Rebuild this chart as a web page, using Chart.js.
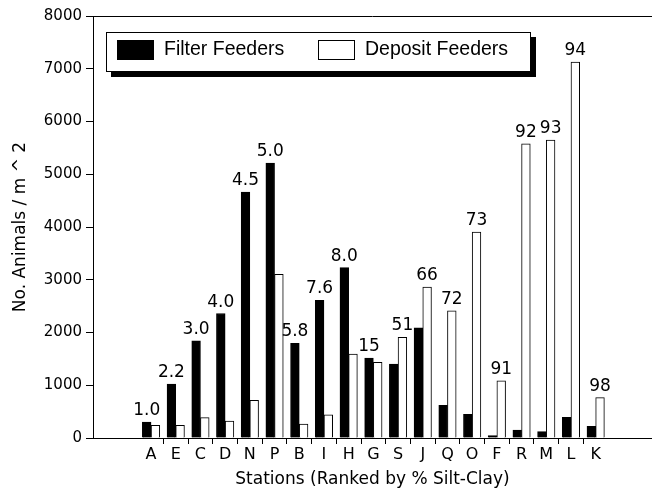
<!DOCTYPE html>
<html><head><meta charset="utf-8">
<script src="https://cdn.jsdelivr.net/npm/chart.js@4.4.0/dist/chart.umd.min.js"></script>
<style>html,body{margin:0;padding:0;background:#fff}#wrap{width:652px;height:493px}</style>
</head><body><div id="wrap"><canvas id="c" width="652" height="493"></canvas></div>
<script>
const stations = ['A','E','C','D','N','P','B','I','H','G','S','J','Q','O','F','R','M','L','K'];
const siltClay = ['1.0','2.2','3.0','4.0','4.5','5.0','5.8','7.6','8.0','15','51','66','72','73','91','92','93','94','98'];
const filterFeeders = [300,1020,1840,2360,4660,5210,1795,2610,3230,1515,1400,2090,620,450,45,150,120,390,220];
const depositFeeders = [240,240,385,320,715,3105,265,440,1590,1435,1910,2860,2410,3905,1085,5575,5650,7125,765];
const seriesNames = ['Filter Feeders','Deposit Feeders'];
const yMin = 0, yMax = 8000, yStep = 1000;
const xTitle = 'Stations (Ranked by % Silt-Clay)';
const yTitle = 'No. Animals / m ^ 2';

const TICKFONT = {family:'DejaVu Sans', size:15};
const boundaries = stations.slice(1).map((s,i)=>i+0.5);

const framePlugin = {
  id:'frame',
  afterDraw(chart){
    const {ctx, chartArea:a} = chart;
    ctx.save();
    ctx.strokeStyle='#000'; ctx.lineWidth=1;
    ctx.beginPath(); ctx.moveTo(a.left, Math.round(a.top)+0.5); ctx.lineTo(a.right, Math.round(a.top)+0.5); ctx.stroke();
    ctx.restore();
  }
};
const labelPlugin = {
  id:'barLabels',
  afterDatasetsDraw(chart){
    const {ctx} = chart;
    const m0 = chart.getDatasetMeta(0).data, m1 = chart.getDatasetMeta(1).data;
    ctx.save();
    ctx.fillStyle='#000'; ctx.font='17px "DejaVu Sans"'; ctx.textAlign='center'; ctx.textBaseline='alphabetic';
    siltClay.forEach((t,i)=>{
      const b = (filterFeeders[i] >= depositFeeders[i]) ? m0[i] : m1[i];
      ctx.fillText(t, b.x, b.y - 7);
    });
    ctx.restore();
  }
};
const legendPlugin = {
  id:'boxLegend',
  afterDraw(chart){
    const {ctx} = chart;
    const ds = chart.data.datasets;
    ctx.save();
    ctx.fillStyle='#000'; ctx.fillRect(111,37,425,40);
    ctx.fillStyle='#fff'; ctx.fillRect(106,32,425,40);
    ctx.strokeStyle='#000'; ctx.lineWidth=1; ctx.strokeRect(106.5,32.5,424,39);
    const items = [{sx:117, tx:164},{sx:318, tx:365}];
    ctx.font='19.5px "Liberation Sans"'; ctx.textBaseline='alphabetic'; ctx.textAlign='left';
    items.forEach((it,k)=>{
      ctx.fillStyle = ds[k].backgroundColor; ctx.fillRect(it.sx,40,37,20);
      ctx.strokeStyle='#000'; ctx.strokeRect(it.sx+0.5,40.5,36,19);
      ctx.fillStyle='#000'; ctx.fillText(ds[k].label, it.tx, 55);
    });
    ctx.restore();
  }
};

new Chart(document.getElementById('c'), {
  type:'bar',
  data:{
    datasets:[
      {label:seriesNames[0], data:filterFeeders.map((v,i)=>({x:i,y:v})), backgroundColor:'#000', borderColor:'#000', borderWidth:1, barThickness:8.7},
      {label:seriesNames[1], data:depositFeeders.map((v,i)=>({x:i,y:v})), backgroundColor:'#fff', borderColor:'#000', borderWidth:1, barThickness:8.7}
    ]
  },
  options:{
    responsive:false, animation:false, devicePixelRatio:1,
    layout:{padding:{top:16,left:0,right:0,bottom:0}},
    plugins:{legend:{display:false}, tooltip:{enabled:false}},
    scales:{
      x:{
        type:'linear', min:-2.35, max:20.28, offset:false,
        afterBuildTicks(axis){
          axis.ticks = stations.map((s,i)=>({value:i})).concat(boundaries.map(v=>({value:v}))).sort((a,b)=>a.value-b.value);
        },
        afterFit(axis){ axis.height = 55; },
        ticks:{autoSkip:false, maxRotation:0, minRotation:0, padding:1, color:'#000', font:{family:'DejaVu Sans', size:16},
          callback(v){ return Number.isInteger(v) ? stations[v] : ''; }},
        grid:{display:true, offset:false, drawOnChartArea:false, drawTicks:true, tickLength:6, tickWidth:1,
          tickColor(ctx){ return (ctx.tick && !Number.isInteger(ctx.tick.value)) ? '#000' : 'rgba(0,0,0,0)'; }},
        border:{display:true, color:'#000', width:1},
        title:{display:true, text:xTitle, color:'#000', font:{family:'DejaVu Sans', size:17}, padding:{top:0,bottom:3}}
      },
      y:{
        min:yMin, max:yMax,
        afterFit(axis){ axis.width = 93; },
        ticks:{stepSize:yStep, padding:4, color:'#000', font:TICKFONT, callback(v){ return String(v); }},
        grid:{display:true, drawOnChartArea:false, drawTicks:true, tickLength:7, tickColor:'#000', tickWidth:1},
        border:{display:true, color:'#000', width:1},
        title:{display:true, text:yTitle, color:'#000', font:{family:'DejaVu Sans', size:17}, padding:{top:10,bottom:0}}
      }
    }
  },
  plugins:[framePlugin, labelPlugin, legendPlugin]
});
</script></body></html>
